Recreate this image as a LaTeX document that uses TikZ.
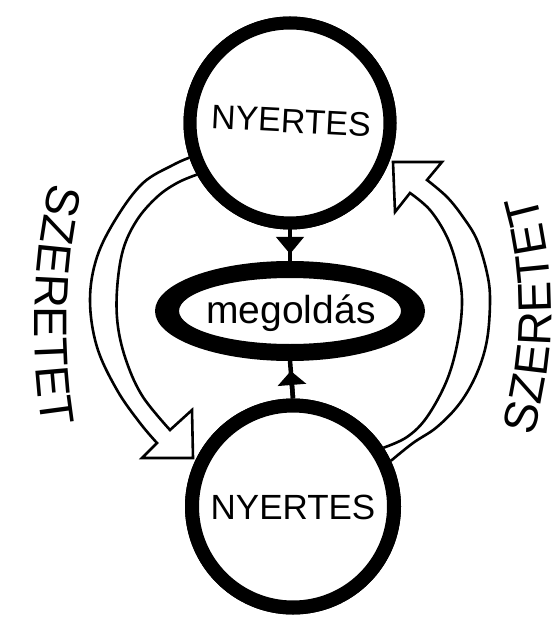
\documentclass[tikz,border=0pt]{standalone}
\usepackage{fontspec}
\setmainfont{Liberation Sans}
\usetikzlibrary{arrows.meta,decorations.text,shapes.geometric}
\begin{document}
\begin{tikzpicture}[x=1pt,y=-1pt,
  ring/.style={circle, draw, line width=13pt, inner sep=0pt},
  hollow/.style={draw, line width=2.6pt, line join=miter},
  stem/.style={line width=4.5pt},
  lbl/.style={font=\fontsize{34}{40}\selectfont, inner sep=0pt},
  ]
\useasboundingbox (0,0) rectangle (557,617);
\fill[white] (0,0) rectangle (557,617);

% nodes
\node[ring, minimum size=200pt] (top) at (290,123) {};
\node[ring, minimum size=202pt, line width=14pt] (bot) at (293,506.5) {};
\node[ellipse, minimum width=270pt, minimum height=100pt, inner sep=0pt, outer sep=0pt] (ell) at (290,311) {};

% hollow arrows (drawn first, circles cover their ends)
\draw[hollow] plot[smooth, tension=0.6] coordinates {(top.199) (173,165) (143,183) (117,217) (97,257) (90,300) (97,347) (117,390) (140,423) (157,443)}
  -- (142,458) -- (193,458) -- (192,410) -- (170,430)
  -- plot[smooth, tension=0.6] coordinates {(170,430) (143,397) (127,363) (118,327) (117,290) (123,250) (137,220) (157,197) (177,183) (top.209)};
\draw[hollow] plot[smooth, tension=0.6] coordinates {(bot.25) (413,443) (437,427) (460,403) (477,373) (487,340) (490,300) (487,273) (477,240) (463,217) (447,197) (427,180)}
  -- (442,162) -- (393,162) -- (395,212) -- (410,193)
  -- plot[smooth, tension=0.6] coordinates {(410,193) (430,210) (447,237) (457,267) (462,300) (458,340) (447,380) (427,417) (407,437) (bot.33)};

% redraw circles on top
\draw[line width=13pt, fill=white] (top.center) circle[radius=100pt];
\draw[line width=14pt, fill=white] (bot.center) circle[radius=101pt];

% ellipse ring
\fill[even odd rule] (ell.center) ellipse[x radius=135pt, y radius=50pt]
                     (ell.center) ellipse[x radius=111pt, y radius=33pt];

% small connectors
\draw[stem] (top.south) -- (ell.north);
\draw[stem, -{Triangle[width=27pt,length=17pt]}, shorten >=7pt] (top.south) -- (ell.north);
\draw[stem] (bot.north) -- (ell.south);
\draw[stem, -{Triangle[width=28pt,length=14pt]}, shorten >=10pt] (bot.north) -- (ell.south);

% texts
\node[lbl, rotate=-3] (ttext) at (291,121) {NYERTES};
\node[lbl, font=\fontsize{35}{40}\selectfont] (btext) at (293,507) {NYERTES};
\node[inner sep=0pt, anchor=base, font=\fontsize{39}{44}\selectfont] (mtext) at (291,323) {megoldás};

\path[decorate, decoration={text along path, text align=center,
   text={|\fontsize{47}{50}\selectfont|SZERETET}}]
   (55,170) .. controls (30,250) and (30,360) .. (45,440);
\path[decorate, decoration={text along path, text align=center,
   text={|\fontsize{47}{50}\selectfont|SZERETET}}]
   (527,455) .. controls (559,360) and (559,260) .. (529,175);
\end{tikzpicture}
\end{document}
